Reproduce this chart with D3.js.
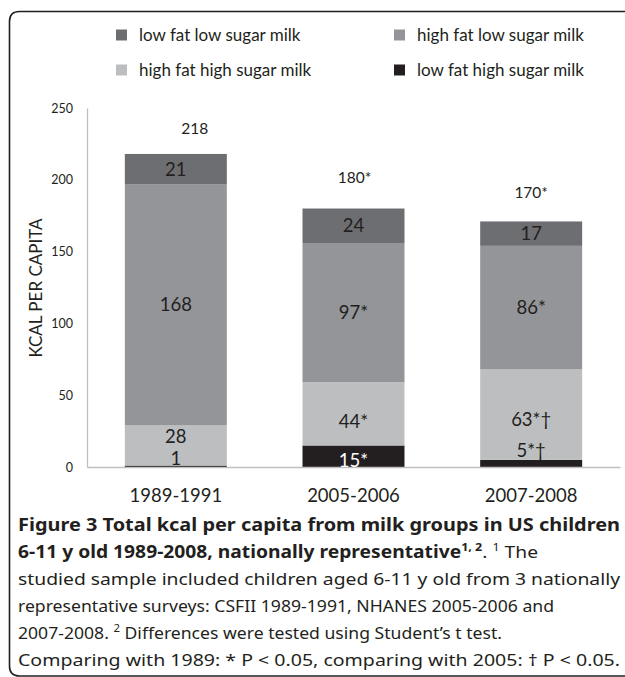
<!DOCTYPE html>
<html>
<head>
<meta charset="utf-8">
<script src="https://cdn.jsdelivr.net/npm/d3@7"></script>
<style>
  body { margin: 0; background: #fff; }
  svg { display: block; }
</style>
</head>
<body>
<div id="chart"></div>
<script>
// data
const periods = ['1989-1991', '2005-2006', '2007-2008']
const lowFatHighSugar = [1, 15, 5]
const highFatHighSugar = [28, 44, 63]
const highFatLowSugar = [168, 97, 86]
const lowFatLowSugar = [21, 24, 17]

const lowFatHighSugarLabels = ['1', '15*', '5*†']
const highFatHighSugarLabels = ['28', '44*', '63*†']
const highFatLowSugarLabels = ['168', '97*', '86*']
const lowFatLowSugarLabels = ['21', '24', '17']
const totalLabels = ['218', '180*', '170*']

const yTicks = [0, 50, 100, 150, 200, 250]

const seriesNames = ['low fat high sugar milk', 'high fat high sugar milk', 'high fat low sugar milk', 'low fat low sugar milk']
const legendOrder = ['low fat low sugar milk', 'high fat low sugar milk', 'high fat high sugar milk', 'low fat high sugar milk']

// styling
const colors = {
  'low fat high sugar milk': '#231f20',
  'high fat high sugar milk': '#bcbec0',
  'high fat low sugar milk': '#939598',
  'low fat low sugar milk': '#6d6e71'
}
// hand moved labels like in the original
const labelNudge = {
  'low fat high sugar milk': [-8, 4, -13],
  'high fat high sugar milk': [-9, 7, 5],
  'high fat low sugar milk': [0, 0, 0],
  'low fat low sugar milk': [0, 0, 0]
}
const totalNudge = [[19, 4], [1, -1.5], [0, 0.5]]

const W = 625, H = 677
const font = 'Lato, "Open Sans", sans-serif'

let svg = d3.select('#chart').append('svg').attr('width', W).attr('height', H)

// frame, open on the right
svg.append('path')
  .attr('d', 'M625,11.5 L19.5,11.5 Q9.5,11.5 9.5,21.5 L9.5,666 Q9.5,676 19.5,676 L625,676')
  .attr('fill', 'none').attr('stroke', '#231f20').attr('stroke-width', 1.6)

let table = periods.map((p, i) => ({
  period: p,
  'low fat high sugar milk': lowFatHighSugar[i],
  'high fat high sugar milk': highFatHighSugar[i],
  'high fat low sugar milk': highFatLowSugar[i],
  'low fat low sugar milk': lowFatLowSugar[i]
}))
let labelsBySeries = {
  'low fat high sugar milk': lowFatHighSugarLabels,
  'high fat high sugar milk': highFatHighSugarLabels,
  'high fat low sugar milk': highFatLowSugarLabels,
  'low fat low sugar milk': lowFatLowSugarLabels
}

let x = d3.scaleBand().domain(periods).range([87, 620]).paddingInner(0.426).paddingOuter(0.213)
let y = d3.scaleLinear().domain([0, 250]).range([467, 108])

let stacked = d3.stack().keys(seriesNames)(table)

// y axis
let yAxis = svg.append('g').attr('transform', 'translate(87,0)')
  .call(d3.axisLeft(y).tickValues(yTicks).tickSize(0).tickPadding(14))
yAxis.select('.domain').attr('stroke', '#bfbfbf').attr('stroke-width', 1.3)
yAxis.selectAll('text').attr('font-family', font).attr('font-size', 12.5).attr('fill', '#231f20')

// bars
let groups = svg.selectAll('g.series').data(stacked).enter().append('g')
  .attr('class', 'series')
  .attr('fill', d => colors[d.key])

groups.selectAll('rect').data(d => d).enter().append('rect')
  .attr('x', d => x(d.data.period))
  .attr('y', d => y(d[1]))
  .attr('width', x.bandwidth())
  .attr('height', d => y(d[0]) - y(d[1]))

// baseline
let xAxis = svg.append('g').attr('transform', 'translate(0,467)')
  .call(d3.axisBottom(x).tickSize(0).tickPadding(22))
xAxis.select('.domain').attr('stroke', '#bfbfbf').attr('stroke-width', 1.3)
xAxis.selectAll('text').attr('font-family', font).attr('font-size', 18.5).attr('fill', '#231f20')

// segment labels
stacked.forEach(s => {
  svg.append('g').selectAll('text').data(s).enter().append('text')
    .attr('x', d => x(d.data.period) + x.bandwidth() / 2)
    .attr('y', (d, i) => y((d[0] + d[1]) / 2) + labelNudge[s.key][i])
    .attr('dy', '0.36em')
    .attr('text-anchor', 'middle')
    .attr('font-family', font).attr('font-size', 18.5)
    // only the 15* label sits inside the black block
    .attr('fill', (d, i) => (s.key === 'low fat high sugar milk' && i === 1) ? '#ffffff' : '#231f20')
    .text((d, i) => labelsBySeries[s.key][i])
})

// totals
let last = stacked[stacked.length - 1]
svg.append('g').selectAll('text').data(last).enter().append('text')
  .attr('x', (d, i) => x(d.data.period) + x.bandwidth() / 2 + totalNudge[i][0])
  .attr('y', (d, i) => y(d[1]) - 30 + totalNudge[i][1])
  .attr('dy', '0.36em')
  .attr('text-anchor', 'middle')
  .attr('font-family', font).attr('font-size', 15.5).attr('fill', '#231f20')
  .text((d, i) => totalLabels[i])

// y title
svg.append('text')
  .attr('transform', 'translate(36,288) rotate(-90)')
  .attr('dy', '0.36em')
  .attr('text-anchor', 'middle')
  .attr('font-family', font).attr('font-size', 17).attr('fill', '#231f20')
  .text('KCAL PER CAPITA')

// legend
let legend = svg.append('g').selectAll('g').data(legendOrder).enter().append('g')
  .attr('transform', (d, i) => 'translate(' + [116, 394][i % 2] + ',' + [35, 70][Math.floor(i / 2)] + ')')
legend.append('rect').attr('x', 0).attr('y', -5.5).attr('width', 11).attr('height', 11)
  .attr('fill', d => colors[d])
legend.append('text').attr('x', 23).attr('dy', '0.36em')
  .attr('font-family', font).attr('font-size', 17).attr('fill', '#231f20')
  .text(d => d)

// caption
const capFont = '"Noto Sans", "Open Sans", sans-serif'
let cap = svg.append('g').attr('font-family', capFont).attr('font-size', 17).attr('fill', '#231f20')

cap.append('text').attr('x', 18).attr('y', 531).attr('font-weight', 'bold')
  .attr('textLength', 602).attr('lengthAdjust', 'spacingAndGlyphs')
  .text('Figure 3 Total kcal per capita from milk groups in US children')

let l2 = cap.append('text').attr('x', 18).attr('y', 558)
  .attr('textLength', 520).attr('lengthAdjust', 'spacingAndGlyphs')
l2.append('tspan').attr('font-weight', 'bold').text('6-11 y old 1989-2008, nationally representative')
l2.append('tspan').attr('font-weight', 'bold').attr('font-size', 11).attr('dy', -7).text('1, 2')
l2.append('tspan').attr('dy', 7).text('. ')
l2.append('tspan').attr('font-size', 11).attr('dy', -7).text('1')
l2.append('tspan').attr('dy', 7).text(' The')

cap.append('text').attr('x', 18).attr('y', 585)
  .attr('textLength', 602).attr('lengthAdjust', 'spacingAndGlyphs')
  .text('studied sample included children aged 6-11 y old from 3 nationally')
cap.append('text').attr('x', 18).attr('y', 612)
  .attr('textLength', 536).attr('lengthAdjust', 'spacingAndGlyphs')
  .text('representative surveys: CSFII 1989-1991, NHANES 2005-2006 and')

let l5 = cap.append('text').attr('x', 18).attr('y', 639)
  .attr('textLength', 484).attr('lengthAdjust', 'spacingAndGlyphs')
l5.append('tspan').text('2007-2008. ')
l5.append('tspan').attr('font-size', 11).attr('dy', -7).text('2')
l5.append('tspan').attr('dy', 7).text(' Differences were tested using Student’s t test.')

cap.append('text').attr('x', 18).attr('y', 666)
  .attr('textLength', 602).attr('lengthAdjust', 'spacingAndGlyphs')
  .text('Comparing with 1989: * P < 0.05, comparing with 2005: † P < 0.05.')
</script>
</body>
</html>
